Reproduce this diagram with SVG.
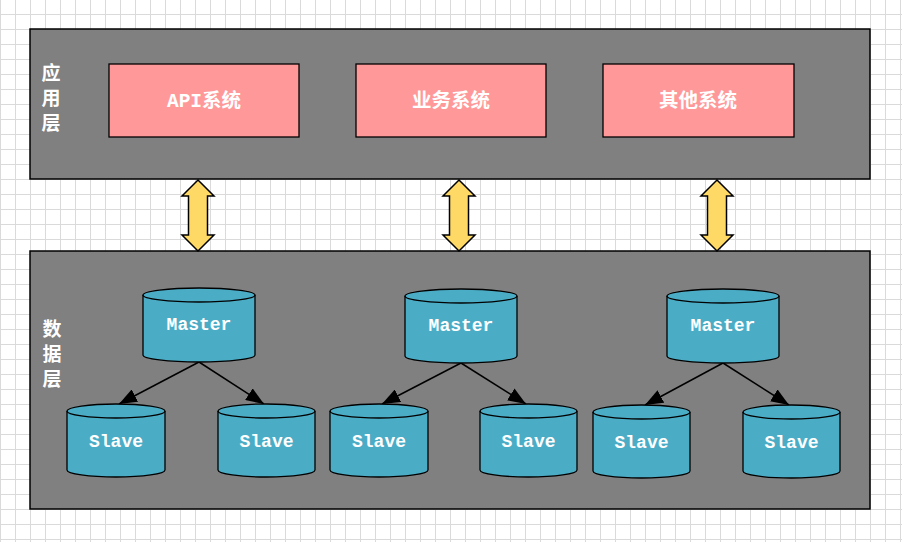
<svg xmlns="http://www.w3.org/2000/svg" width="902" height="542" viewBox="0 0 902 542">
<style>
.panel{fill:#808080;stroke:#000;stroke-width:1.5}
.sys{fill:#ff9999;stroke:#000;stroke-width:1.3}
.db{fill:#4bacc6;stroke:#000;stroke-width:1.3}
.dbl{fill:none;stroke:#000;stroke-width:1.3}
.arr{fill:#ffd966;stroke:#000;stroke-width:1.5;stroke-linejoin:miter}
.lbl{fill:#fff;font-family:"Liberation Mono","Noto Sans CJK SC",monospace;font-weight:bold;text-anchor:middle}
.sl{font-size:19.5px}
.dl{font-size:18px}
.vl{font-size:19px;font-family:"Noto Sans CJK SC",sans-serif}
.con{stroke:#000;stroke-width:1.5;fill:none;marker-end:url(#ah)}
</style>
<defs>
<pattern id="grid" width="15" height="15" patternUnits="userSpaceOnUse" x="0" y="-1">
<rect x="0" y="0" width="15" height="1" fill="#dadada"/>
<rect x="0" y="0" width="1" height="15" fill="#dadada"/>
</pattern>
<marker id="ah" viewBox="0 0 18 14" refX="18" refY="7" markerWidth="18" markerHeight="14" markerUnits="userSpaceOnUse" orient="auto">
<path d="M0,0 L18,7 L0,14 z" fill="#000"/>
</marker>
</defs>
<rect width="902" height="542" fill="#fff"/>
<rect width="902" height="542" fill="url(#grid)"/>

<g id="app-layer">
<rect class="panel" x="30" y="29" width="840" height="150"/>
<text class="lbl vl" x="51" y="80">应</text>
<text class="lbl vl" x="51" y="105">用</text>
<text class="lbl vl" x="51" y="130">层</text>
</g>
<g id="data-layer">
<rect class="panel" x="30" y="251" width="840" height="258"/>
<text class="lbl vl" x="52" y="336">数</text>
<text class="lbl vl" x="52" y="361">据</text>
<text class="lbl vl" x="52" y="386">层</text>
</g>

<g id="api">
<rect class="sys" x="109" y="64" width="190" height="73"/>
<text class="lbl sl" x="204" y="107">API系统</text>
</g>
<g id="biz">
<rect class="sys" x="356" y="64" width="190" height="73"/>
<text class="lbl sl" x="451" y="107">业务系统</text>
</g>
<g id="other">
<rect class="sys" x="603" y="64" width="191" height="73"/>
<text class="lbl sl" x="698" y="107">其他系统</text>
</g>

<g id="links">
<path class="arr" d="M198,180 L214,196 L207.5,196 L207.5,235 L214,235 L198,251 L182,235 L188.5,235 L188.5,196 L182,196 Z"/>
<path class="arr" d="M459,180 L475,196 L468.5,196 L468.5,235 L475,235 L459,251 L443,235 L449.5,235 L449.5,196 L443,196 Z"/>
<path class="arr" d="M717,180 L733,196 L726.5,196 L726.5,235 L733,235 L717,251 L701,235 L707.5,235 L707.5,196 L701,196 Z"/>
</g>

<g id="connectors">
<line class="con" x1="199" y1="362" x2="119" y2="404"/>
<line class="con" x1="199" y1="362" x2="264" y2="404"/>
<line class="con" x1="461" y1="363" x2="382" y2="404"/>
<line class="con" x1="461" y1="363" x2="526" y2="404"/>
<line class="con" x1="723" y1="363" x2="645" y2="405"/>
<line class="con" x1="723" y1="363" x2="789" y2="405"/>
</g>

<g id="master1">
<path class="db" d="M143,295 A56,7 0 0 1 255,295 L255,355 A56,7 0 0 1 143,355 Z"/>
<path class="dbl" d="M143,295 A56,7 0 0 0 255,295"/>
<text class="lbl dl" x="199" y="330">Master</text>
</g>
<g id="slave1a">
<path class="db" d="M67,411 A49,7 0 0 1 165,411 L165,470 A49,7 0 0 1 67,470 Z"/>
<path class="dbl" d="M67,411 A49,7 0 0 0 165,411"/>
<text class="lbl dl" x="116" y="447">Slave</text>
</g>
<g id="slave1b">
<path class="db" d="M218,411 A48.5,7 0 0 1 315,411 L315,470 A48.5,7 0 0 1 218,470 Z"/>
<path class="dbl" d="M218,411 A48.5,7 0 0 0 315,411"/>
<text class="lbl dl" x="266.5" y="447">Slave</text>
</g>

<g id="master2">
<path class="db" d="M405,296 A56,7 0 0 1 517,296 L517,356 A56,7 0 0 1 405,356 Z"/>
<path class="dbl" d="M405,296 A56,7 0 0 0 517,296"/>
<text class="lbl dl" x="461" y="331">Master</text>
</g>
<g id="slave2a">
<path class="db" d="M330,411 A49,7 0 0 1 428,411 L428,470 A49,7 0 0 1 330,470 Z"/>
<path class="dbl" d="M330,411 A49,7 0 0 0 428,411"/>
<text class="lbl dl" x="379" y="447">Slave</text>
</g>
<g id="slave2b">
<path class="db" d="M480,411 A48.5,7 0 0 1 577,411 L577,470 A48.5,7 0 0 1 480,470 Z"/>
<path class="dbl" d="M480,411 A48.5,7 0 0 0 577,411"/>
<text class="lbl dl" x="528.5" y="447">Slave</text>
</g>

<g id="master3">
<path class="db" d="M667,296 A56,7 0 0 1 779,296 L779,356 A56,7 0 0 1 667,356 Z"/>
<path class="dbl" d="M667,296 A56,7 0 0 0 779,296"/>
<text class="lbl dl" x="723" y="331">Master</text>
</g>
<g id="slave3a">
<path class="db" d="M593,412 A48.5,7 0 0 1 690,412 L690,471 A48.5,7 0 0 1 593,471 Z"/>
<path class="dbl" d="M593,412 A48.5,7 0 0 0 690,412"/>
<text class="lbl dl" x="641.5" y="448">Slave</text>
</g>
<g id="slave3b">
<path class="db" d="M743,412 A48.5,7 0 0 1 840,412 L840,471 A48.5,7 0 0 1 743,471 Z"/>
<path class="dbl" d="M743,412 A48.5,7 0 0 0 840,412"/>
<text class="lbl dl" x="791.5" y="448">Slave</text>
</g>
</svg>
